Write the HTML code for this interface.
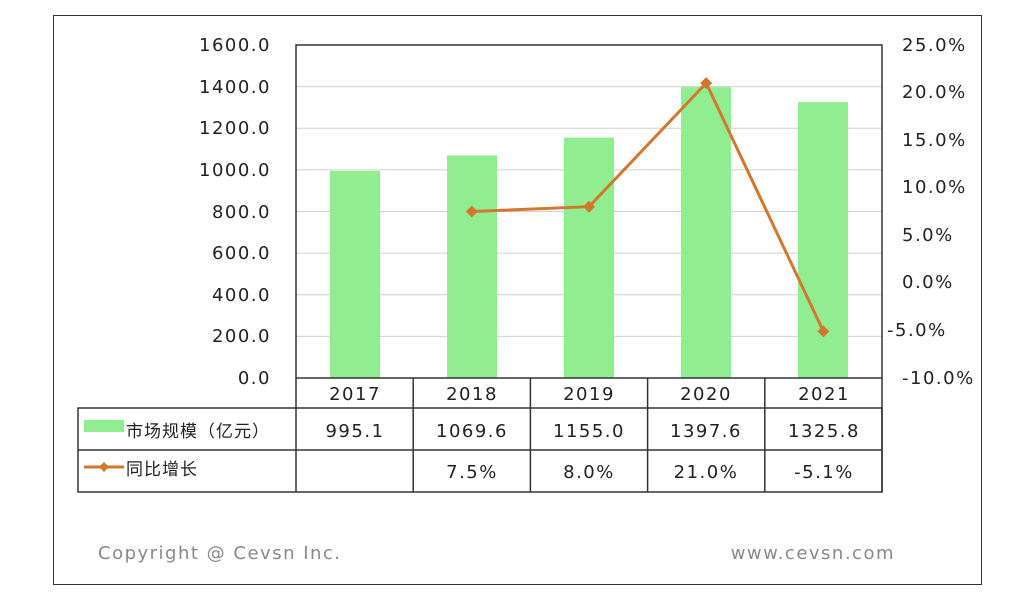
<!DOCTYPE html>
<html><head><meta charset="utf-8"><style>body{margin:0;background:#fff}svg{display:block}text{font-family:"DejaVu Sans","Noto Sans CJK SC",sans-serif;fill:#222;letter-spacing:1.5px}</style></head><body>
<svg width="1024" height="616" xmlns="http://www.w3.org/2000/svg">
<rect x="0" y="0" width="1024" height="616" fill="#fff"/>
<rect x="53.5" y="15.5" width="928" height="569" fill="#fff" stroke="#333" stroke-width="1"/>
<g stroke="#d0d0d0" stroke-width="1">
<line x1="296" x2="882" y1="86.6" y2="86.6"/><line x1="296" x2="882" y1="128.3" y2="128.3"/><line x1="296" x2="882" y1="169.9" y2="169.9"/><line x1="296" x2="882" y1="211.5" y2="211.5"/><line x1="296" x2="882" y1="253.1" y2="253.1"/><line x1="296" x2="882" y1="294.8" y2="294.8"/><line x1="296" x2="882" y1="336.4" y2="336.4"/>
</g>
<g fill="#90ee90">
<rect x="330" y="170.9" width="50" height="207.1"/><rect x="447" y="155.4" width="50" height="222.6"/><rect x="564" y="137.6" width="50" height="240.4"/><rect x="681" y="87.1" width="50" height="290.9"/><rect x="798" y="102.1" width="50" height="275.9"/>
</g>
<rect x="296" y="45" width="586" height="333" fill="none" stroke="#333" stroke-width="1.5"/>
<polyline points="471.8,211.5 589,206.7 706.2,83.1 823.4,331.4" fill="none" stroke="#d2782e" stroke-width="3"/>
<g fill="#d2782e">
<path d="M471.8,205.5 l6,6 -6,6 -6,-6z"/><path d="M589,200.7 l6,6 -6,6 -6,-6z"/><path d="M706.2,77.1 l6,6 -6,6 -6,-6z"/><path d="M823.4,325.4 l6,6 -6,6 -6,-6z"/>
</g>
<g font-size="18" text-anchor="end">
<text x="271" y="51">1600.0</text><text x="271" y="93">1400.0</text><text x="271" y="134">1200.0</text><text x="271" y="176">1000.0</text><text x="271" y="218">800.0</text><text x="271" y="259">600.0</text><text x="271" y="301">400.0</text><text x="271" y="342">200.0</text><text x="271" y="384">0.0</text>
</g>
<g font-size="18">
<text x="902" y="51">25.0%</text><text x="902" y="98">20.0%</text><text x="902" y="146">15.0%</text><text x="902" y="193">10.0%</text><text x="902" y="241">5.0%</text><text x="902" y="288">0.0%</text><text x="887" y="336">-5.0%</text><text x="902" y="384">-10.0%</text>
</g>
<g stroke="#333" stroke-width="1.5" fill="none">
<rect x="78" y="408" width="804" height="84"/>
<line x1="78" x2="882" y1="450" y2="450"/>
<line x1="296" x2="296" y1="378" y2="492"/><line x1="413.2" x2="413.2" y1="378" y2="492"/><line x1="530.4" x2="530.4" y1="378" y2="492"/><line x1="647.6" x2="647.6" y1="378" y2="492"/><line x1="764.8" x2="764.8" y1="378" y2="492"/><line x1="882" x2="882" y1="378" y2="492"/>
</g>
<g font-size="18" text-anchor="middle">
<text x="355" y="400">2017</text><text x="472" y="400">2018</text><text x="589" y="400">2019</text><text x="706" y="400">2020</text><text x="824" y="400">2021</text>
<text x="355" y="437">995.1</text><text x="472" y="437">1069.6</text><text x="589" y="437">1155.0</text><text x="706" y="437">1397.6</text><text x="824" y="437">1325.8</text>
<text x="472" y="478">7.5%</text><text x="589" y="478">8.0%</text><text x="706" y="478">21.0%</text><text x="824" y="478">-5.1%</text>
</g>
<rect x="84" y="420" width="40" height="12" fill="#90ee90"/>
<text x="126" y="437" font-size="17" style="letter-spacing:1px">市场规模（亿元）</text>
<line x1="84" x2="124" y1="467" y2="467" stroke="#d2782e" stroke-width="3"/>
<path d="M104,462 l5,5 -5,5 -5,-5z" fill="#d2782e"/>
<text x="126" y="475" font-size="17" style="letter-spacing:1px">同比增长</text>
<text x="98" y="559" font-size="18" style="fill:#888">Copyright @ Cevsn Inc.</text>
<text x="895" y="559" font-size="18" text-anchor="end" style="fill:#888">www.cevsn.com</text>
</svg>
</body></html>
